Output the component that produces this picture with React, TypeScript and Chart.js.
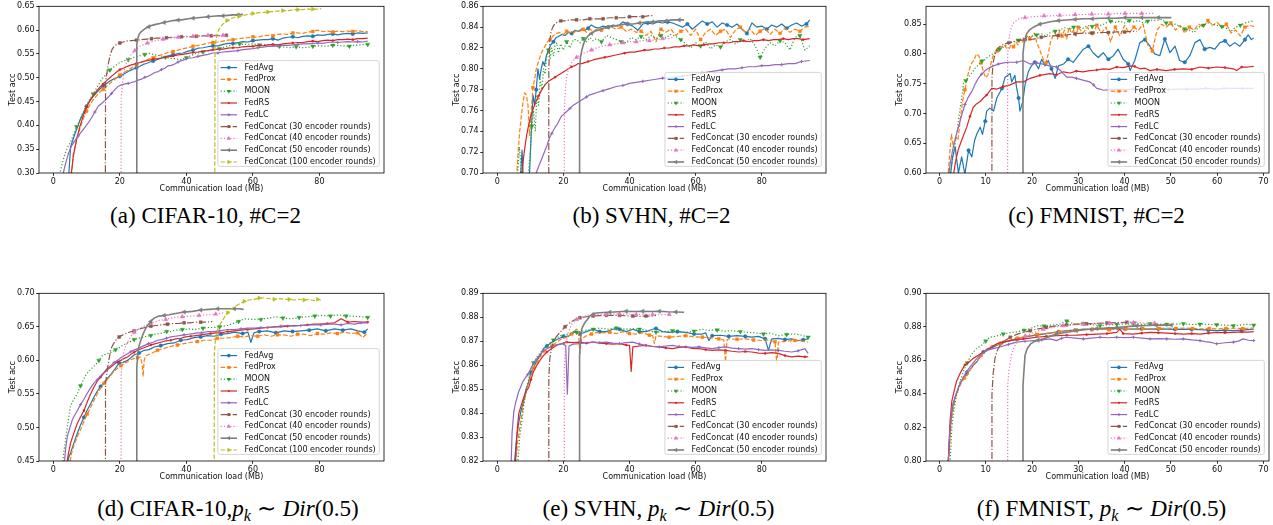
import React, { useEffect, useRef } from "react";
import { Chart, registerables } from "chart.js";
Chart.register(...registerables);

type Pt = [number, number];

// ---------------- series names & ticks ----------------
const SERIES_NAMES = [
  "FedAvg",
  "FedProx",
  "MOON",
  "FedRS",
  "FedLC",
  "FedConcat (30 encoder rounds)",
  "FedConcat (40 encoder rounds)",
  "FedConcat (50 encoder rounds)",
  "FedConcat (100 encoder rounds)",
];
const X_TICKS_100 = [0, 20, 40, 60, 80];
const X_TICKS_70 = [0, 10, 20, 30, 40, 50, 60, 70];
const Y_TICKS_A = [0.3, 0.35, 0.4, 0.45, 0.5, 0.55, 0.6, 0.65];
const Y_TICKS_B = [0.7, 0.72, 0.74, 0.76, 0.78, 0.8, 0.82, 0.84, 0.86];
const Y_TICKS_C = [0.6, 0.65, 0.7, 0.75, 0.8, 0.85];
const Y_TICKS_D = [0.45, 0.5, 0.55, 0.6, 0.65, 0.7];
const Y_TICKS_E = [0.82, 0.83, 0.84, 0.85, 0.86, 0.87, 0.88, 0.89];
const Y_TICKS_F = [0.8, 0.82, 0.84, 0.86, 0.88, 0.9];

// ---------------- (a) CIFAR-10, #C=2 ----------------
const A_FEDAVG: Pt[] = [[4.5,0.28],[5.2,0.355],[6,0.372],[7,0.392],[8,0.41],[9,0.426],[10,0.44],[11,0.452],[12,0.461],[13,0.469],[14,0.476],[15,0.483],[16,0.488],[17,0.493],[18,0.497],[19,0.5],[20,0.503],[21,0.507],[22,0.511],[23,0.515],[24,0.518],[25,0.521],[26,0.524],[27,0.528],[28,0.53],[29,0.533],[30,0.535],[31.5,0.539],[33,0.542],[34.5,0.546],[36,0.548],[37.5,0.551],[39,0.552],[40.5,0.556],[42,0.558],[43.5,0.562],[45,0.563],[46.5,0.565],[48,0.567],[49.5,0.567],[51,0.57],[52.5,0.572],[54,0.572],[55.5,0.574],[57,0.576],[58.5,0.575],[60,0.578],[61.5,0.579],[63,0.58],[64.5,0.58],[66,0.582],[67.5,0.579],[69,0.583],[70.5,0.585],[72,0.586],[73.5,0.584],[75,0.587],[76.5,0.588],[78,0.587],[79.5,0.59],[81,0.589],[82.5,0.591],[84,0.592],[85.5,0.59],[87,0.592],[88.5,0.593],[90,0.592],[91.5,0.594],[93,0.593],[94.5,0.594]];
const A_FEDPROX: Pt[] = [[5.3,0.28],[6,0.34],[7,0.37],[8,0.394],[9,0.414],[10,0.43],[11,0.443],[12,0.454],[13,0.462],[14,0.47],[15,0.476],[16,0.482],[17,0.488],[18,0.494],[19,0.5],[20,0.506],[21,0.51],[22,0.514],[23,0.518],[24,0.523],[25,0.527],[26,0.531],[27,0.534],[28,0.537],[29,0.54],[30,0.542],[31.5,0.546],[33,0.549],[34.5,0.553],[36,0.555],[37.5,0.558],[39,0.561],[40.5,0.563],[42,0.566],[43.5,0.568],[45,0.57],[46.5,0.573],[48,0.574],[49.5,0.575],[51,0.577],[52.5,0.579],[54,0.58],[55.5,0.582],[57,0.583],[58.5,0.584],[60,0.586],[61.5,0.585],[63,0.588],[64.5,0.589],[66,0.588],[67.5,0.591],[69,0.592],[70.5,0.591],[72,0.594],[73.5,0.594],[75,0.593],[76.5,0.596],[78,0.597],[79.5,0.6],[81,0.597],[82.5,0.598],[84,0.596],[85.5,0.598],[87,0.597],[88.5,0.598],[90,0.597],[91.5,0.599],[93,0.597],[94.5,0.597]];
const A_MOON: Pt[] = [[1.7,0.29],[2.5,0.315],[3.5,0.34],[4.5,0.357],[5.2,0.365],[6,0.38],[7,0.397],[8,0.413],[9,0.428],[10,0.443],[11,0.455],[12,0.466],[13,0.478],[14,0.49],[14.7,0.498],[16,0.508],[17,0.516],[18,0.522],[19.5,0.53],[21,0.535],[22.5,0.538],[24.3,0.543],[26,0.546],[27.5,0.549],[29,0.551],[30.5,0.548],[32,0.546],[33.7,0.543],[35,0.541],[36.5,0.54],[38.3,0.538],[40,0.542],[41.5,0.547],[43.3,0.552],[45,0.554],[46.5,0.556],[48,0.558],[50,0.561],[52,0.566],[54.4,0.57],[56,0.571],[58,0.57],[60,0.571],[62,0.569],[64,0.57],[66,0.568],[68,0.566],[70,0.564],[71.4,0.563],[73,0.565],[75,0.563],[76.4,0.564],[78,0.566],[80,0.567],[82,0.566],[84,0.568],[85.5,0.568],[87,0.567],[89,0.566],[90.5,0.568],[92,0.569],[94.5,0.57]];
const A_FEDRS: Pt[] = [[5,0.28],[5.6,0.31],[6,0.335],[7,0.37],[8,0.398],[9,0.42],[10,0.438],[11,0.452],[12,0.463],[13,0.472],[14,0.48],[15,0.487],[16,0.494],[17,0.5],[18,0.506],[19,0.512],[20,0.517],[21,0.52],[22,0.523],[23,0.526],[24,0.528],[25,0.53],[26,0.532],[27,0.534],[28,0.536],[29,0.537],[30,0.539],[31.5,0.54],[33,0.542],[34.5,0.544],[36,0.546],[37.5,0.548],[39,0.549],[40.5,0.551],[42,0.553],[43.5,0.554],[45,0.556],[46.5,0.557],[48,0.559],[49.5,0.56],[51,0.56],[52.5,0.562],[54,0.563],[55.5,0.563],[57,0.565],[58.5,0.566],[60,0.566],[61.5,0.568],[63,0.567],[64.5,0.569],[66,0.57],[67.5,0.569],[69,0.571],[70.5,0.572],[72,0.573],[73.5,0.574],[75,0.574],[76.5,0.576],[78,0.577],[79.5,0.576],[81,0.578],[82.5,0.579],[84,0.578],[85.5,0.58],[87,0.58],[88.5,0.581],[90,0.58],[91.5,0.582],[93,0.582],[94.5,0.583]];
const A_FEDLC: Pt[] = [[2.7,0.29],[3.5,0.315],[4.5,0.34],[5.5,0.357],[6.5,0.368],[7.5,0.378],[8.5,0.387],[9.5,0.396],[10.5,0.405],[11.5,0.416],[12.5,0.428],[13.5,0.44],[14.5,0.446],[15.5,0.452],[16.5,0.459],[17.5,0.467],[18.5,0.475],[19.5,0.482],[20.5,0.485],[21.5,0.487],[22.5,0.488],[23.5,0.49],[24.5,0.492],[25.5,0.495],[26.5,0.497],[27.5,0.501],[28.5,0.503],[29.5,0.507],[30.5,0.511],[31.5,0.513],[32.5,0.517],[33.5,0.52],[34.5,0.525],[35.5,0.526],[36.5,0.529],[37.5,0.533],[38.5,0.536],[39.5,0.538],[40.5,0.541],[42,0.542],[43.5,0.545],[45,0.547],[46.5,0.549],[48,0.552],[49.5,0.552],[51,0.554],[52.5,0.555],[54,0.556],[55.5,0.557],[57,0.559],[58.5,0.56],[60,0.561],[61.5,0.563],[63,0.564],[64.5,0.566],[66,0.566],[67.5,0.567],[69,0.568],[70.5,0.568],[72,0.569],[73.5,0.57],[75,0.571],[76.5,0.571],[78,0.572],[79.5,0.573],[81,0.572],[82.5,0.574],[84,0.575],[85.5,0.574],[87,0.575],[88.5,0.576],[90,0.575],[91.5,0.576],[93,0.575],[94.5,0.577]];
const A_FC30: Pt[] = [[15.6,0.1],[15.7,0.49],[16.2,0.515],[16.7,0.535],[17.2,0.55],[17.7,0.56],[18.3,0.566],[19,0.57],[20,0.573],[21,0.575],[22,0.577],[23.5,0.578],[25,0.579],[26.5,0.58],[28,0.581],[29.5,0.582],[31,0.583],[32.5,0.583],[34,0.584],[35.5,0.585],[37,0.585],[38.5,0.586],[40,0.587],[41.5,0.586],[43,0.587],[44.5,0.588],[46,0.588],[47.5,0.588],[49,0.589],[50.5,0.588],[52,0.589]];
const A_FC40: Pt[] = [[20.3,0.1],[20.4,0.46],[20.8,0.49],[21.3,0.515],[21.8,0.528],[22.4,0.538],[23,0.545],[23.7,0.551],[24.5,0.557],[25.4,0.563],[26.3,0.567],[27.3,0.57],[28.3,0.573],[29.3,0.575],[30.3,0.577],[31.5,0.579],[33,0.581],[34.5,0.582],[36,0.584],[37.5,0.585],[39,0.586],[40.5,0.586],[42,0.587],[43.5,0.588],[45,0.588],[46.5,0.589],[48,0.589],[49.5,0.589],[51,0.589],[52.4,0.589]];
const A_FC50: Pt[] = [[25,0.1],[25.1,0.57],[25.4,0.583],[25.8,0.591],[26.3,0.596],[27,0.6],[27.8,0.604],[28.7,0.607],[29.7,0.61],[30.8,0.612],[32,0.614],[33.3,0.616],[34.6,0.618],[36,0.62],[37.5,0.621],[39,0.622],[40.5,0.624],[42,0.625],[43.5,0.626],[45,0.627],[46.5,0.628],[48,0.629],[49.5,0.63],[51,0.63],[52.5,0.631],[54,0.632],[55.5,0.632],[57,0.633]];
const A_FC100: Pt[] = [[48.5,0.1],[48.6,0.56],[48.9,0.58],[49.3,0.594],[49.8,0.602],[50.4,0.608],[51.2,0.614],[52.2,0.62],[53.3,0.624],[54.5,0.627],[55.8,0.629],[57.2,0.631],[58.6,0.633],[60,0.635],[61.5,0.636],[63,0.637],[64.5,0.638],[66,0.639],[67.5,0.64],[69,0.641],[70.5,0.641],[72,0.642],[73.5,0.643],[75,0.643],[76.5,0.644],[78,0.644],[79.5,0.644],[80.5,0.645]];

// ---------------- (b) SVHN, #C=2 ----------------
const B_FEDAVG: Pt[] = [[6.8,0.69],[7.2,0.705],[7.5,0.722],[7.8,0.7],[8.5,0.69],[9.2,0.69],[9.8,0.7015],[10.3,0.74],[10.8,0.775],[11.3,0.765],[11.8,0.78],[12.3,0.8],[12.8,0.79],[13.3,0.8],[13.8,0.807],[14.3,0.803],[14.8,0.812],[15.5,0.818],[16.2,0.823],[17,0.826],[17.8,0.83],[18.5,0.831],[19.5,0.833],[20.5,0.832],[21.5,0.835],[22.5,0.834],[23.5,0.837],[24.5,0.836],[25.5,0.838],[26.5,0.837],[27.5,0.839],[28.5,0.842],[29.5,0.84],[30.5,0.839],[32,0.841],[33.5,0.84],[35,0.842],[36.5,0.841],[38,0.845],[39.5,0.843],[41,0.841],[42.5,0.837],[44,0.843],[45.5,0.844],[47,0.843],[48.5,0.845],[50,0.844],[51.5,0.845],[53,0.844],[54.5,0.842],[56,0.84],[57.5,0.843],[59,0.838],[60.5,0.842],[62,0.846],[63.5,0.843],[65,0.845],[66.5,0.84],[68,0.844],[69.5,0.842],[71,0.84],[72.5,0.843],[74,0.838],[75.5,0.834],[77,0.844],[78.5,0.84],[80,0.841],[81.5,0.838],[83,0.842],[84.5,0.84],[86,0.843],[87.5,0.839],[89,0.842],[90.5,0.844],[92,0.841],[93.5,0.843],[94.5,0.847]];
const B_FEDPROX: Pt[] = [[5.8,0.69],[6.3,0.72],[6.8,0.74],[7.3,0.755],[7.8,0.768],[8.3,0.777],[8.8,0.775],[9.3,0.765],[9.8,0.736],[10.3,0.76],[10.8,0.782],[11.3,0.79],[11.8,0.8],[12.3,0.805],[12.8,0.81],[13.3,0.815],[13.8,0.818],[14.5,0.822],[15.2,0.826],[16,0.828],[17,0.832],[18,0.834],[19,0.835],[20,0.833],[21,0.836],[22,0.835],[23,0.834],[24,0.837],[25,0.836],[26,0.838],[27,0.835],[28,0.838],[29,0.836],[30,0.838],[31.5,0.837],[33,0.839],[34.5,0.84],[36,0.838],[37.5,0.84],[39,0.836],[40.5,0.838],[42,0.835],[43.5,0.836],[45,0.832],[46.5,0.836],[48,0.826],[49.5,0.838],[51,0.835],[52.5,0.838],[54,0.832],[55.5,0.836],[57,0.838],[58.5,0.832],[60,0.838],[61.5,0.828],[63,0.835],[64.5,0.838],[66,0.832],[67.5,0.836],[69,0.838],[70.5,0.83],[72,0.837],[73.5,0.84],[75,0.835],[76.5,0.838],[78,0.832],[79.5,0.836],[81,0.839],[82.5,0.833],[84,0.838],[85.5,0.834],[87,0.839],[88.5,0.835],[90,0.838],[91.5,0.836],[93,0.84],[94.5,0.841]];
const B_MOON: Pt[] = [[5.8,0.69],[6.2,0.7],[6.7,0.725],[7.1,0.71],[7.6,0.69],[8.5,0.69],[9.3,0.695],[10,0.72],[10.5,0.745],[11,0.76],[11.5,0.74],[12,0.775],[12.5,0.765],[13,0.79],[13.5,0.78],[14,0.8],[14.5,0.795],[15,0.812],[15.5,0.818],[16,0.81],[16.5,0.82],[17,0.812],[17.5,0.822],[18,0.825],[18.5,0.815],[19.2,0.824],[20,0.818],[21,0.826],[22,0.82],[23,0.828],[24,0.828],[25,0.825],[26,0.829],[27,0.826],[28,0.83],[29,0.827],[30,0.829],[31.5,0.826],[33,0.832],[34.5,0.83],[36,0.828],[37.5,0.826],[39,0.825],[40.5,0.83],[42,0.828],[43.5,0.831],[45,0.828],[46.5,0.832],[48,0.829],[49.5,0.832],[51,0.83],[52.5,0.833],[54,0.831],[55.5,0.828],[57,0.824],[58.5,0.82],[60,0.825],[61.5,0.822],[63,0.826],[64.5,0.819],[66,0.823],[67.5,0.821],[69,0.826],[70.5,0.828],[72,0.824],[73.5,0.828],[75,0.826],[76.5,0.829],[78,0.822],[79.5,0.811],[81,0.82],[82.5,0.825],[84,0.822],[85.5,0.827],[87,0.825],[88.5,0.818],[90,0.83],[91.5,0.832],[93,0.818],[94.5,0.822]];
const B_FEDRS: Pt[] = [[7.2,0.69],[7.6,0.703],[8,0.716],[8.5,0.728],[9,0.738],[9.5,0.746],[10,0.753],[10.7,0.76],[11.5,0.767],[12.5,0.774],[13.5,0.78],[14.5,0.785],[15.5,0.788],[16.5,0.79],[17.5,0.792],[18.5,0.794],[19.5,0.796],[20.5,0.798],[21.5,0.8],[22.5,0.802],[23.5,0.803],[24.5,0.805],[25.5,0.805],[26.5,0.806],[27.5,0.807],[28.5,0.808],[29.5,0.809],[31,0.81],[32.5,0.811],[34,0.812],[35.5,0.813],[37,0.814],[38.5,0.815],[40,0.816],[41.5,0.816],[43,0.817],[44.5,0.818],[46,0.818],[47.5,0.819],[49,0.819],[50.5,0.82],[52,0.82],[53.5,0.821],[55,0.821],[56.5,0.822],[58,0.822],[59.5,0.823],[61,0.822],[62.5,0.823],[64,0.824],[65.5,0.824],[67,0.825],[68.5,0.825],[70,0.825],[71.5,0.826],[73,0.826],[74.5,0.827],[76,0.826],[77.5,0.827],[79,0.827],[80.5,0.828],[82,0.827],[83.5,0.828],[85,0.828],[86.5,0.829],[88,0.828],[89.5,0.829],[91,0.829],[92.5,0.828],[94.5,0.829]];
const B_FEDLC: Pt[] = [[11.5,0.698],[12,0.702],[12.5,0.706],[13,0.71],[13.5,0.714],[14,0.718],[14.5,0.722],[15,0.726],[15.5,0.731],[16,0.735],[16.5,0.738],[17,0.741],[17.5,0.744],[18,0.746],[18.5,0.749],[19,0.752],[19.5,0.755],[20,0.756],[21,0.759],[22,0.762],[23,0.765],[24,0.767],[25,0.769],[26,0.771],[27,0.773],[28,0.775],[29,0.776],[30,0.777],[32,0.779],[34,0.781],[36,0.783],[38,0.784],[40,0.786],[42,0.787],[44,0.788],[46,0.789],[48,0.79],[50,0.791],[52,0.791],[54,0.792],[56,0.793],[58,0.794],[60,0.795],[62,0.796],[64,0.797],[66,0.798],[68,0.799],[70,0.8],[72,0.8],[74,0.801],[76,0.802],[78,0.802],[80,0.803],[82,0.803],[84,0.804],[86,0.804],[88,0.805],[90,0.805],[92,0.807],[94.5,0.808]];
const B_FC30: Pt[] = [[15.5,0.1],[15.6,0.8],[15.9,0.827],[16.3,0.836],[16.8,0.84],[17.4,0.843],[18.2,0.845],[19.2,0.846],[20.5,0.846],[22,0.847],[24,0.847],[26,0.847],[28,0.848],[30,0.848],[32,0.848],[34,0.849],[36,0.849],[38,0.849],[40,0.85],[42,0.85],[44,0.85],[46,0.851],[47.5,0.851]];
const B_FC40: Pt[] = [[20.2,0.1],[20.3,0.76],[20.6,0.78],[21,0.793],[21.5,0.799],[22.2,0.804],[23,0.808],[24,0.811],[25,0.813],[26,0.815],[27,0.816],[28.5,0.818],[30,0.82],[32,0.822],[34,0.823],[36,0.824],[38,0.825],[40,0.826],[42,0.826],[44,0.827],[46,0.827],[48,0.828],[50,0.829],[52,0.829],[53,0.83]];
const B_FC50: Pt[] = [[24.8,0.1],[24.9,0.8],[25.2,0.812],[25.6,0.818],[26.1,0.824],[26.8,0.829],[27.6,0.832],[28.5,0.834],[29.5,0.836],[30.5,0.837],[32,0.839],[33.5,0.84],[35,0.841],[37,0.842],[39,0.843],[41,0.843],[43,0.844],[45,0.845],[47,0.845],[49,0.846],[51,0.846],[53,0.847],[55,0.847],[56.5,0.847]];

// ---------------- (c) FMNIST, #C=2 ----------------
const C_FEDAVG: Pt[] = [[2.3,0.59],[2.8,0.625],[3.4,0.644],[4.1,0.6],[4.8,0.627],[5.5,0.598],[6.3,0.638],[7,0.627],[7.6,0.655],[8.1,0.666],[8.8,0.677],[9.3,0.665],[9.9,0.687],[10.2,0.704],[10.9,0.709],[11.7,0.704],[12.4,0.726],[13.5,0.742],[14.2,0.761],[15.3,0.767],[15.6,0.753],[16.3,0.764],[16.7,0.742],[17.1,0.726],[17.4,0.704],[18,0.72],[18.5,0.748],[19.2,0.77],[19.9,0.78],[20.6,0.786],[21.4,0.775],[22.1,0.791],[22.8,0.78],[23.5,0.789],[24.2,0.775],[25,0.759],[25.7,0.78],[26.8,0.783],[27.8,0.791],[28.9,0.786],[30,0.797],[31.1,0.808],[32.2,0.813],[33.2,0.802],[34.3,0.794],[35.4,0.802],[36.5,0.791],[37.6,0.797],[38.6,0.808],[39.7,0.791],[40.8,0.783],[41.2,0.772],[42.2,0.789],[43.3,0.819],[44.4,0.824],[45.5,0.813],[46.5,0.8],[47.6,0.797],[48.7,0.825],[49.8,0.802],[50.9,0.813],[51.9,0.789],[53,0.786],[54.1,0.797],[55.2,0.819],[56.3,0.824],[57.3,0.808],[58.4,0.811],[59.5,0.808],[60.6,0.819],[61.7,0.822],[62.7,0.813],[63.8,0.819],[64.9,0.813],[66,0.824],[66.7,0.832],[67.4,0.824],[67.9,0.827]];
const C_FEDPROX: Pt[] = [[1.8,0.59],[2.3,0.64],[2.6,0.665],[3,0.645],[3.5,0.66],[4,0.655],[4.5,0.69],[5,0.72],[5.5,0.74],[6,0.76],[6.5,0.775],[7,0.785],[7.5,0.79],[8,0.8],[8.5,0.797],[9,0.785],[9.5,0.77],[10,0.76],[10.5,0.765],[11,0.78],[11.5,0.795],[12,0.8],[12.5,0.805],[13,0.808],[13.5,0.812],[14,0.815],[14.5,0.81],[15,0.808],[15.5,0.815],[16,0.812],[16.5,0.82],[17,0.815],[17.5,0.825],[18,0.82],[18.5,0.828],[19,0.83],[19.5,0.825],[20,0.83],[20.5,0.835],[21,0.82],[21.5,0.81],[22,0.8],[22.5,0.79],[23,0.785],[23.5,0.8],[24,0.82],[24.5,0.83],[25,0.835],[25.5,0.825],[26,0.84],[26.5,0.83],[27,0.84],[27.5,0.825],[28,0.845],[28.5,0.835],[29,0.84],[29.5,0.83],[30,0.845],[31,0.835],[32,0.845],[33,0.83],[34,0.848],[35,0.835],[36,0.845],[37,0.82],[38,0.845],[39,0.83],[40,0.848],[41,0.835],[42,0.845],[43,0.84],[44,0.85],[45,0.815],[46,0.805],[47,0.84],[48,0.85],[49,0.845],[50,0.852],[51,0.84],[52,0.848],[53,0.835],[54,0.845],[55,0.84],[56,0.85],[57,0.845],[58,0.856],[59,0.848],[60,0.853],[61,0.845],[62,0.85],[63,0.835],[64,0.84],[65,0.83],[66,0.845],[67,0.848],[68,0.846]];
const C_MOON: Pt[] = [[2.3,0.595],[2.8,0.62],[3.3,0.645],[3.8,0.67],[4.3,0.7],[4.8,0.725],[5.2,0.75],[5.7,0.755],[6.2,0.76],[6.7,0.765],[7.2,0.77],[7.7,0.776],[8.2,0.78],[8.7,0.784],[9.2,0.788],[9.7,0.79],[10.3,0.794],[10.9,0.797],[11.5,0.8],[12,0.803],[13,0.808],[14,0.812],[15,0.818],[16,0.82],[17,0.823],[18,0.826],[19,0.828],[20,0.83],[21,0.832],[22,0.834],[23,0.83],[24,0.836],[25,0.838],[26,0.84],[27,0.844],[28,0.842],[29,0.845],[30,0.846],[31,0.843],[32,0.848],[33,0.846],[34,0.85],[35,0.848],[36,0.852],[37,0.855],[38,0.853],[39,0.855],[40,0.852],[41,0.856],[42,0.854],[43,0.856],[44,0.852],[45,0.855],[46,0.857],[47,0.856],[48,0.858],[49,0.852],[50,0.848],[51,0.85],[52,0.846],[53,0.842],[54,0.84],[55,0.836],[56,0.845],[57,0.848],[58,0.852],[59,0.85],[60,0.848],[61,0.846],[62,0.843],[63,0.838],[64,0.845],[65,0.848],[66,0.852],[67,0.854],[68,0.856]];
const C_FEDRS: Pt[] = [[3,0.595],[3.5,0.62],[4.1,0.64],[4.8,0.655],[5.9,0.677],[6.6,0.695],[7.3,0.71],[8,0.716],[8.8,0.72],[9.5,0.726],[10.2,0.731],[11.3,0.742],[12.4,0.741],[13.8,0.745],[15.3,0.748],[16.7,0.753],[18.1,0.753],[19.6,0.759],[21.7,0.764],[23.9,0.767],[25.3,0.765],[26.8,0.77],[28.2,0.768],[29.6,0.771],[31,0.77],[32.5,0.772],[34,0.773],[35.4,0.775],[36.8,0.774],[38.3,0.778],[39.7,0.777],[41.2,0.78],[42.2,0.779],[43.3,0.775],[44.4,0.776],[45.5,0.772],[47,0.774],[49,0.772],[50.8,0.774],[52.7,0.775],[54.5,0.774],[56.3,0.778],[58.1,0.776],[59.9,0.778],[61.7,0.777],[63.5,0.775],[64.2,0.772],[65.3,0.778],[66.6,0.778],[67.9,0.779]];
const C_FEDLC: Pt[] = [[1.9,0.59],[2.4,0.62],[3,0.644],[3.5,0.66],[4.1,0.677],[4.8,0.697],[5.5,0.715],[6.2,0.727],[7,0.737],[7.7,0.749],[8.4,0.759],[9.1,0.766],[9.9,0.772],[10.8,0.777],[11.7,0.78],[12.7,0.783],[13.8,0.785],[15.2,0.786],[16.7,0.786],[18.1,0.789],[19.6,0.783],[21,0.785],[22.4,0.783],[23.8,0.78],[25.3,0.778],[26.4,0.77],[27.5,0.761],[28.6,0.761],[29.6,0.759],[31,0.756],[32.5,0.753],[33.3,0.748],[34,0.742],[34.7,0.741],[35.4,0.739],[36.8,0.74],[38.3,0.741],[40,0.74],[41.9,0.741],[43.7,0.74],[45.5,0.741],[47.5,0.741],[49.5,0.74],[51.5,0.741],[53.5,0.741],[55.5,0.741],[57.5,0.742],[59.5,0.741],[61.5,0.742],[63.5,0.742],[65.5,0.742],[67.9,0.742]];
const C_FC30: Pt[] = [[11.3,0.1],[11.35,0.76],[11.6,0.785],[12,0.8],[12.4,0.808],[13,0.812],[13.8,0.816],[15,0.819],[16.7,0.822],[18.5,0.824],[20.3,0.825],[22,0.828],[23.9,0.83],[25.7,0.831],[27.5,0.832],[29.3,0.834],[31.1,0.835],[33,0.835],[34.7,0.836],[36.5,0.836],[38.3,0.837],[40,0.837],[41.5,0.838],[42.6,0.838]];
const C_FC40: Pt[] = [[14.7,0.1],[14.75,0.8],[15.1,0.83],[15.5,0.843],[16,0.852],[16.6,0.856],[17.4,0.86],[18.5,0.861],[19.7,0.862],[21,0.863],[22.6,0.864],[24.3,0.864],[26,0.865],[27.5,0.865],[29.3,0.866],[31,0.866],[32.9,0.867],[34.7,0.867],[36.5,0.867],[38.3,0.868],[40.1,0.868],[41.9,0.868],[43.7,0.868],[45.3,0.868],[46.5,0.868]];
const C_FC50: Pt[] = [[18,0.1],[18.05,0.8],[18.3,0.818],[18.8,0.833],[19.3,0.839],[19.9,0.843],[20.8,0.847],[21.7,0.85],[22.8,0.852],[23.9,0.854],[25.7,0.856],[27.5,0.857],[29.3,0.858],[31.1,0.859],[33,0.859],[34.7,0.86],[36.5,0.86],[38.3,0.86],[40.1,0.861],[41.9,0.861],[43.7,0.861],[45.5,0.861],[47.3,0.861],[49,0.861],[50.1,0.861]];

// ---------------- (d) CIFAR-10, Dir(0.5) ----------------
const D_FEDAVG: Pt[] = [[4,0.44],[4.6,0.455],[5.2,0.462],[6.2,0.477],[7.2,0.491],[8.2,0.504],[9.2,0.515],[10.2,0.526],[11.2,0.535],[12.2,0.545],[13.2,0.554],[14.2,0.561],[15.2,0.567],[16.2,0.573],[17.3,0.579],[18.5,0.587],[19.8,0.596],[21,0.597],[22.3,0.6],[23.3,0.604],[24.3,0.608],[25.8,0.611],[27.3,0.615],[28.8,0.616],[30.3,0.62],[32.3,0.622],[34.3,0.625],[36.3,0.626],[38.3,0.63],[40.3,0.631],[42.3,0.634],[44.3,0.635],[46.3,0.637],[48.3,0.636],[50.4,0.639],[52.4,0.64],[54.4,0.642],[56.9,0.64],[58.5,0.642],[59.4,0.627],[60.3,0.641],[61.9,0.643],[64.4,0.644],[66.9,0.641],[69.4,0.644],[71.9,0.643],[74.4,0.644],[76.9,0.645],[79.4,0.647],[81.9,0.644],[84.5,0.647],[87,0.645],[89.5,0.647],[91.5,0.644],[93.5,0.642],[94.5,0.647]];
const D_FEDPROX: Pt[] = [[4.7,0.44],[5.5,0.462],[6.3,0.475],[7.2,0.486],[8.2,0.497],[9.2,0.509],[10.2,0.52],[11.2,0.53],[12.2,0.54],[13.2,0.55],[14.2,0.559],[15.3,0.566],[16.3,0.572],[17.3,0.578],[18.3,0.584],[19.3,0.588],[20.3,0.592],[21.3,0.595],[22.3,0.598],[23.3,0.601],[24.3,0.603],[25.3,0.604],[26.3,0.605],[26.8,0.59],[27,0.576],[27.3,0.6],[27.8,0.607],[29.3,0.61],[31.3,0.615],[33.3,0.618],[35.3,0.621],[37.3,0.623],[39.3,0.625],[41.3,0.627],[43.3,0.628],[45.3,0.63],[47.3,0.63],[49.3,0.633],[51.3,0.633],[53.4,0.634],[55.4,0.636],[57.4,0.635],[59.4,0.637],[61.4,0.636],[63.4,0.638],[65.4,0.636],[67.4,0.638],[69.4,0.638],[71.4,0.636],[73.4,0.639],[75.4,0.639],[77.4,0.637],[79.4,0.64],[81.4,0.639],[83.4,0.641],[85.4,0.64],[87.5,0.642],[89.5,0.64],[91.5,0.641],[93,0.634],[94.5,0.641]];
const D_MOON: Pt[] = [[2.7,0.44],[3.2,0.465],[3.7,0.482],[4.2,0.5],[4.7,0.518],[5.2,0.533],[6.2,0.542],[7.2,0.55],[8.2,0.562],[9.1,0.572],[10,0.58],[11,0.585],[11.9,0.59],[12.7,0.593],[13.7,0.6],[14.7,0.607],[15.7,0.609],[16.8,0.611],[17.8,0.613],[18.7,0.616],[19.5,0.618],[20.7,0.622],[21.9,0.625],[23.1,0.628],[24.3,0.631],[25.5,0.633],[26.8,0.634],[28,0.636],[29.3,0.637],[30.5,0.639],[31.7,0.64],[32.9,0.641],[34.1,0.643],[35.3,0.643],[36.5,0.645],[37.7,0.645],[38.8,0.646],[40,0.646],[41.2,0.647],[42.3,0.646],[43.3,0.647],[45,0.648],[46.5,0.649],[48.1,0.649],[50,0.65],[52.4,0.652],[54,0.655],[55.7,0.658],[57.4,0.662],[60,0.661],[62.4,0.661],[64.6,0.663],[66.9,0.665],[69,0.663],[71.4,0.662],[73.9,0.664],[76.4,0.665],[78.6,0.666],[80.9,0.667],[83.3,0.666],[85.7,0.668],[88,0.666],[90.5,0.666],[92.5,0.665],[94.5,0.664]];
const D_FEDRS: Pt[] = [[3.9,0.44],[4.5,0.46],[5.2,0.477],[6.2,0.492],[7.2,0.506],[8.2,0.516],[9.2,0.525],[10.2,0.538],[11.2,0.55],[12.2,0.56],[13.2,0.569],[14.2,0.575],[15.2,0.581],[16.2,0.586],[17.3,0.59],[18.3,0.594],[19.3,0.598],[20.3,0.6],[21.3,0.603],[22.3,0.605],[23.3,0.609],[24.3,0.612],[25.3,0.615],[26.3,0.617],[27.8,0.62],[29.3,0.623],[30.8,0.625],[32.3,0.627],[33.8,0.629],[35.3,0.63],[36.8,0.632],[38.3,0.633],[39.8,0.635],[41.3,0.636],[42.8,0.637],[44.3,0.638],[45.8,0.639],[47.3,0.64],[48.8,0.641],[50.4,0.641],[52.4,0.643],[54.4,0.644],[56.4,0.645],[58.4,0.646],[60.4,0.647],[62.4,0.648],[64.4,0.649],[66.4,0.65],[68.4,0.65],[70.4,0.651],[72.4,0.652],[74.4,0.652],[76.4,0.653],[78.4,0.654],[80.4,0.654],[82.4,0.655],[84.5,0.656],[86.5,0.662],[88.5,0.657],[90.5,0.658],[92.5,0.657],[94.5,0.657]];
const D_FEDLC: Pt[] = [[3.2,0.44],[3.7,0.468],[4.2,0.486],[5,0.5],[5.7,0.511],[6.5,0.519],[7.2,0.525],[8.2,0.534],[9.2,0.542],[10.2,0.551],[11.2,0.559],[12.2,0.566],[13.2,0.571],[14.2,0.577],[15.2,0.582],[16.2,0.588],[17.2,0.592],[18.3,0.597],[19.3,0.6],[20.3,0.604],[21.3,0.607],[22.3,0.61],[23.3,0.613],[24.6,0.616],[26,0.619],[27.3,0.622],[28.6,0.625],[30,0.627],[31.3,0.63],[32.6,0.631],[34,0.633],[35.3,0.635],[36.6,0.636],[38,0.637],[39.3,0.638],[40.6,0.639],[42,0.64],[43.3,0.641],[44.6,0.641],[46.3,0.643],[48,0.643],[50,0.644],[52.4,0.646],[54.4,0.646],[56.4,0.647],[58.4,0.648],[60.4,0.648],[62.4,0.649],[64.4,0.649],[66.4,0.65],[68.4,0.651],[70.4,0.652],[72.4,0.651],[74.4,0.652],[76.4,0.653],[78.4,0.653],[80.4,0.653],[82.4,0.654],[84.5,0.654],[86.5,0.653],[88.5,0.655],[90.5,0.654],[92.5,0.656],[94.5,0.656]];
const D_FC30: Pt[] = [[15.6,0.1],[15.7,0.565],[16.2,0.585],[16.8,0.603],[17.3,0.617],[18,0.624],[18.8,0.63],[19.8,0.635],[21.3,0.639],[22.8,0.642],[24.3,0.644],[26,0.647],[27.6,0.649],[29.3,0.651],[31,0.652],[32.6,0.653],[34.3,0.654],[36,0.655],[37.6,0.655],[39.3,0.656],[41,0.656],[42.6,0.657],[44.3,0.657],[46,0.657],[47.8,0.658]];
const D_FC40: Pt[] = [[20.3,0.1],[20.4,0.58],[20.7,0.598],[21.1,0.61],[21.6,0.619],[22.3,0.627],[23.2,0.635],[24.3,0.642],[25.8,0.647],[27.3,0.651],[29.3,0.655],[31.3,0.659],[33.8,0.661],[36.3,0.664],[38.8,0.665],[41.3,0.666],[43.8,0.667],[46.3,0.668],[48.8,0.669],[51.4,0.671]];
const D_FC50: Pt[] = [[25,0.1],[25.1,0.59],[25.4,0.61],[25.8,0.622],[26.3,0.63],[26.8,0.637],[27.5,0.645],[28.3,0.652],[29.3,0.658],[30.3,0.663],[31.8,0.666],[33.3,0.667],[34.8,0.668],[36.8,0.67],[39.3,0.672],[41.8,0.673],[44.3,0.675],[46.8,0.676],[49.4,0.677],[51.9,0.677],[54.4,0.677],[56,0.677],[57.2,0.676]];
const D_FC100: Pt[] = [[48.3,0.1],[48.4,0.61],[48.7,0.628],[49.1,0.642],[49.7,0.65],[50.4,0.656],[51.4,0.664],[52.4,0.671],[53.4,0.676],[54.4,0.68],[55.9,0.684],[57.4,0.688],[58.9,0.69],[60.4,0.691],[61.9,0.693],[63.4,0.693],[64.9,0.692],[66.4,0.691],[67.9,0.692],[69.4,0.691],[70.9,0.691],[72.4,0.69],[73.9,0.691],[75.4,0.69],[76.9,0.691],[78.4,0.689],[79.5,0.691],[80.4,0.69]];

// ---------------- (e) SVHN, Dir(0.5) ----------------
const E_FEDAVG: Pt[] = [[5.2,0.819],[5.8,0.829],[6.5,0.836],[7.2,0.841],[8,0.845],[8.7,0.85],[9.5,0.853],[10.2,0.857],[11,0.859],[12,0.862],[13,0.864],[14,0.867],[15,0.868],[16,0.869],[17,0.87],[18.5,0.871],[20,0.872],[21.5,0.872],[23,0.874],[25,0.873],[27,0.874],[29,0.875],[31,0.874],[33,0.874],[35,0.875],[37,0.875],[39,0.874],[41,0.875],[43,0.874],[45,0.874],[47,0.875],[48,0.8753],[50,0.874],[52,0.8737],[54.5,0.874],[57,0.8737],[59.5,0.873],[62,0.873],[63,0.8735],[64,0.8703],[65,0.8723],[67.5,0.8725],[70,0.872],[72.5,0.8723],[75,0.872],[77,0.8717],[79,0.872],[81,0.871],[82,0.8662],[83,0.871],[85,0.8712],[87,0.8707],[89,0.871],[91,0.8703],[92.5,0.8706],[94,0.871]];
const E_FEDPROX: Pt[] = [[5.5,0.819],[6.2,0.828],[7,0.8357],[8,0.844],[9,0.8506],[10,0.855],[11,0.8588],[12,0.861],[13,0.8635],[14,0.865],[15,0.8669],[16.5,0.868],[18,0.8696],[19.5,0.871],[21,0.8717],[22.5,0.873],[24,0.875],[24.5,0.8744],[25,0.8649],[25.5,0.871],[27,0.8723],[28.5,0.873],[30,0.8737],[32,0.8735],[34,0.8737],[36,0.8732],[38,0.874],[40,0.8732],[42,0.873],[44,0.8735],[46,0.8725],[47,0.8723],[47.5,0.869],[48,0.8723],[50,0.872],[52,0.8717],[54.5,0.872],[57,0.8723],[59.5,0.8718],[62,0.8717],[64.5,0.8714],[67,0.871],[68.5,0.8705],[69,0.8615],[69.5,0.8705],[70,0.871],[72.5,0.8708],[75,0.871],[77.5,0.8705],[80,0.8703],[82,0.8706],[84,0.8698],[84.5,0.8608],[85,0.8696],[87.5,0.87],[90,0.8703],[92,0.87],[94,0.8696]];
const E_MOON: Pt[] = [[6.2,0.819],[6.8,0.83],[7.5,0.837],[8.2,0.845],[9,0.8506],[10,0.8574],[11,0.861],[12,0.8635],[13.5,0.866],[15,0.8683],[17,0.8705],[19,0.8723],[21.5,0.873],[24,0.8737],[26.5,0.8745],[29,0.875],[31,0.8755],[33.5,0.875],[36,0.8755],[38,0.875],[40.5,0.8752],[43,0.875],[45.5,0.8745],[48,0.8737],[50.5,0.874],[53,0.8744],[55,0.8738],[57,0.8737],[59.5,0.8742],[62,0.875],[64,0.8745],[66.5,0.8747],[68.5,0.8742],[71,0.8744],[73.5,0.874],[76,0.8737],[78,0.8735],[80.5,0.873],[82.5,0.8734],[85,0.8723],[87.5,0.8728],[90,0.873],[92,0.8725],[94,0.8717]];
const E_FEDRS: Pt[] = [[5.5,0.819],[6,0.832],[6.5,0.8397],[7.2,0.843],[8,0.8465],[8.7,0.849],[9.5,0.8506],[10.2,0.854],[11,0.8574],[12,0.86],[13,0.8622],[14,0.864],[15,0.8655],[16.5,0.867],[18,0.8683],[19.5,0.869],[21,0.8696],[23,0.8694],[25,0.8696],[27,0.8692],[29,0.8696],[31,0.8692],[33,0.869],[35,0.8688],[37,0.869],[39,0.8684],[40,0.8683],[40.5,0.8574],[41,0.8676],[43,0.868],[45,0.8683],[47,0.8678],[49,0.8676],[51,0.8672],[53,0.8669],[55,0.8674],[57,0.8676],[59,0.867],[61,0.8669],[63,0.8665],[65,0.8662],[67,0.8664],[69,0.8662],[71,0.8658],[73,0.8655],[75,0.8657],[77,0.8655],[79,0.865],[81,0.8649],[83,0.8652],[85,0.8649],[87,0.864],[89,0.8635],[91,0.8638],[93,0.8635],[94,0.8635]];
const E_FEDLC: Pt[] = [[4.2,0.819],[4.5,0.832],[5,0.8404],[5.5,0.844],[6,0.8465],[6.5,0.849],[7,0.8506],[7.7,0.853],[8.5,0.8547],[9.2,0.856],[10,0.8581],[11,0.861],[12,0.8628],[13,0.8645],[14,0.8662],[15.5,0.8672],[17,0.8683],[18.5,0.8687],[20,0.869],[20.7,0.868],[21.2,0.8479],[21.7,0.868],[23,0.8688],[25,0.869],[27,0.8694],[29,0.8696],[31,0.8694],[33,0.8696],[35,0.8692],[37,0.869],[39,0.8694],[41,0.8696],[43,0.8688],[45,0.8683],[47,0.8678],[49,0.8676],[51,0.868],[53,0.8683],[55,0.8678],[57,0.8676],[59,0.8674],[61,0.8676],[63,0.8672],[65,0.8669],[67,0.8673],[69,0.8676],[71,0.8671],[73,0.8669],[75,0.8667],[77,0.8669],[79,0.8665],[81,0.8662],[83,0.8664],[85,0.8662],[87,0.8658],[89,0.8655],[91,0.866],[93,0.8669],[94,0.8649]];
const E_FC30: Pt[] = [[15.5,0.1],[15.6,0.855],[15.9,0.8628],[16.4,0.867],[17,0.8696],[17.8,0.8718],[19,0.8737],[20.5,0.876],[22,0.8778],[23.5,0.879],[25,0.8798],[27,0.8802],[29,0.8805],[31,0.8807],[33,0.8808],[35,0.8808],[37,0.8808],[39,0.8806],[41,0.8805],[43,0.8804],[45,0.8805],[47,0.8805],[48,0.8808]];
const E_FC40: Pt[] = [[20.2,0.1],[20.3,0.86],[20.6,0.8669],[21,0.8705],[21.5,0.8737],[22.5,0.8771],[24,0.8791],[25.5,0.88],[27,0.8808],[29,0.881],[31,0.8812],[33,0.8813],[35,0.8814],[37,0.8814],[39,0.8813],[42,0.8812],[44.5,0.8813],[47,0.8812],[49.5,0.8811],[52,0.8812]];
const E_FC50: Pt[] = [[24.8,0.1],[24.9,0.864],[25.1,0.8696],[25.5,0.875],[26,0.8765],[26.5,0.8778],[27.2,0.879],[28,0.8805],[29,0.8812],[30,0.8818],[32,0.882],[34,0.8821],[36.5,0.8823],[39,0.8825],[41.5,0.8824],[44,0.8825],[46.5,0.8824],[49,0.8825],[51.5,0.8823],[54,0.8822],[56.5,0.8821]];

// ---------------- (f) FMNIST, Dir(0.5) ----------------
const F_FEDAVG: Pt[] = [[1.9,0.799],[2.3,0.8184],[2.6,0.827],[3,0.834],[3.5,0.839],[4.1,0.8437],[4.6,0.847],[5.2,0.8495],[5.9,0.852],[6.6,0.8544],[7.3,0.857],[8.1,0.8592],[8.8,0.862],[9.5,0.865],[10.2,0.866],[10.9,0.867],[12,0.8685],[13.1,0.8699],[14.2,0.871],[15.3,0.8718],[16.7,0.8728],[18.1,0.8738],[19.5,0.8745],[21,0.8751],[22.4,0.8757],[23.9,0.8763],[25.7,0.877],[27.5,0.8777],[29.3,0.878],[31.1,0.8786],[32.9,0.8784],[34.7,0.8786],[36.5,0.8788],[38.3,0.879],[40.1,0.8787],[41.9,0.8786],[43.7,0.8788],[45.5,0.8786],[47.3,0.8788],[49.1,0.8786],[50.9,0.8785],[52.7,0.8786],[54.5,0.8784],[56.3,0.8783],[58.1,0.878],[59.9,0.8777],[61.7,0.878],[63.5,0.8777],[65.3,0.878],[66.6,0.8783],[67.9,0.8786]];
const F_FEDPROX: Pt[] = [[2,0.799],[2.4,0.817],[2.7,0.826],[3.1,0.833],[3.6,0.839],[4.2,0.8435],[4.8,0.847],[5.4,0.8495],[6.1,0.852],[6.8,0.855],[7.5,0.858],[8.2,0.86],[9,0.863],[9.7,0.8655],[10.4,0.867],[11.1,0.8685],[12.2,0.8692],[13.3,0.8702],[14.4,0.8712],[15.5,0.8722],[16.9,0.8732],[18.3,0.874],[19.7,0.8748],[21.2,0.8755],[22.6,0.876],[24.1,0.8765],[25.9,0.877],[27.7,0.8776],[29.5,0.878],[31.3,0.8784],[33.1,0.8786],[34.9,0.8785],[36.7,0.8783],[38.5,0.8786],[40.3,0.8788],[42.1,0.8787],[43.9,0.879],[45.7,0.8788],[47.5,0.879],[49.3,0.8792],[51.1,0.879],[52.9,0.8793],[54.7,0.879],[56.5,0.8788],[58.3,0.879],[60.1,0.8788],[61.9,0.879],[63.7,0.8792],[65.5,0.879],[67.9,0.8793]];
const F_MOON: Pt[] = [[2.3,0.799],[2.7,0.82],[3.1,0.83],[3.6,0.838],[4.2,0.845],[4.7,0.8495],[5.2,0.8534],[6,0.8585],[6.7,0.8625],[7.3,0.865],[8.2,0.8675],[9.1,0.869],[10,0.8715],[10.9,0.8738],[12.3,0.8745],[13.8,0.8757],[15.3,0.8765],[16.8,0.877],[18.3,0.878],[19.7,0.879],[21,0.8806],[22.6,0.8805],[24.2,0.881],[25.9,0.8815],[27.5,0.8835],[29.3,0.8815],[31.1,0.882],[32.9,0.8813],[34.7,0.8806],[36.5,0.8812],[38.3,0.8815],[40.1,0.8816],[41.9,0.8818],[43.7,0.8815],[45.5,0.8818],[47.3,0.8816],[49.1,0.8815],[50.9,0.8816],[52.7,0.8818],[54.5,0.8814],[56.3,0.8816],[58.1,0.8815],[59.9,0.8812],[61.7,0.881],[63.5,0.8806],[65.3,0.8812],[66.6,0.8815],[67.9,0.881]];
const F_FEDRS: Pt[] = [[1.9,0.799],[2.3,0.824],[2.7,0.836],[3.2,0.842],[3.7,0.8476],[4.6,0.853],[5.5,0.8573],[6.4,0.859],[7.3,0.8612],[8.4,0.863],[9.5,0.865],[11,0.8675],[12.4,0.8699],[13.8,0.871],[15.3,0.8718],[16.7,0.8724],[18.1,0.8728],[19.5,0.8733],[21,0.8738],[23.1,0.8743],[25.3,0.8748],[27.5,0.875],[29.6,0.8751],[31.8,0.8754],[34,0.8757],[36.2,0.876],[38.3,0.8767],[39,0.8786],[39.7,0.876],[41.9,0.8757],[43.7,0.8762],[45.5,0.8767],[47.3,0.8765],[49.1,0.8763],[50.9,0.876],[52.7,0.8757],[54.5,0.876],[56.3,0.8757],[58.1,0.8762],[59.9,0.8767],[61.7,0.8765],[63.5,0.8767],[65.3,0.877],[66.6,0.8768],[67.9,0.8771]];
const F_FEDLC: Pt[] = [[1.9,0.799],[2.3,0.82],[2.7,0.832],[3.4,0.838],[4.1,0.8437],[5,0.849],[5.9,0.8534],[7,0.8575],[8.1,0.8612],[9.1,0.864],[10.2,0.866],[11.6,0.867],[13.1,0.868],[14.9,0.8695],[16.7,0.8709],[18.5,0.8714],[20.3,0.8718],[22.1,0.8722],[23.9,0.8728],[25.3,0.8718],[26.4,0.8732],[27.5,0.8738],[29.3,0.8733],[31.1,0.8728],[32.9,0.8733],[34.7,0.8738],[36.5,0.8735],[38.3,0.8738],[40.1,0.8736],[41.9,0.8738],[43.7,0.8733],[45.5,0.8728],[47.3,0.873],[49.1,0.8728],[50.9,0.8726],[52.7,0.8728],[54.5,0.8722],[56.3,0.8718],[57.4,0.8712],[58.4,0.8709],[59.9,0.8699],[61.7,0.8705],[63.5,0.8709],[64.6,0.8715],[65.6,0.8728],[66.8,0.872],[67.9,0.8718]];
const F_FC30: Pt[] = [[11.3,0.1],[11.35,0.84],[11.6,0.852],[12,0.8612],[12.5,0.866],[13.1,0.8689],[14.2,0.8718],[15.3,0.8738],[16.7,0.8755],[18.1,0.8767],[19.6,0.8777],[21,0.8786],[23.1,0.8796],[25.3,0.8806],[27.5,0.8812],[29.6,0.8816],[31.8,0.8818],[34,0.8821],[36.2,0.8823],[38.3,0.8825],[40.5,0.8827],[42.6,0.8829]];
const F_FC40: Pt[] = [[14.7,0.1],[14.75,0.845],[15,0.853],[15.3,0.8592],[15.6,0.864],[16,0.867],[16.7,0.8705],[17.4,0.8728],[18.5,0.8745],[19.6,0.8757],[21,0.8772],[22.4,0.8786],[24.5,0.8796],[26.7,0.8806],[28.9,0.8811],[31.1,0.8816],[33.9,0.8818],[36.8,0.8821],[39.4,0.8823],[41.9,0.8825],[44.2,0.8823],[46.5,0.8821]];
const F_FC50: Pt[] = [[18,0.1],[18.05,0.845],[18.3,0.8553],[18.5,0.8631],[18.9,0.8665],[19.2,0.868],[19.7,0.8698],[20.3,0.8709],[21.3,0.872],[22.4,0.8728],[23.8,0.8743],[25.3,0.8757],[27.5,0.8768],[29.6,0.8777],[31.8,0.8784],[34,0.879],[36.2,0.8793],[38.3,0.8796],[40.5,0.8801],[42.6,0.8806],[44.7,0.8808],[46.8,0.881],[48.5,0.881],[50.1,0.881]];

// ---------------- styles ----------------
const STYLES = [
  { color: "#1f77b4", dash: [] as number[], marker: "circle", rot: 0, r: 1.8, w: 1.2 },
  { color: "#ff7f0e", dash: [4.5, 1.9], marker: "rect", rot: 0, r: 2.1, w: 1.2 },
  { color: "#2ca02c", dash: [1.2, 2], marker: "triangle", rot: 180, r: 2.5, w: 1.2 },
  { color: "#d62728", dash: [] as number[], marker: "circle", rot: 0, r: 1.1, w: 1.2 },
  { color: "#9467bd", dash: [] as number[], marker: "cross", rot: 0, r: 1.6, w: 1.2 },
  { color: "#8c564b", dash: [7, 1.9, 1.2, 1.9], marker: "rect", rot: 0, r: 2.1, w: 1.2 },
  { color: "#e377c2", dash: [1.2, 2], marker: "triangle", rot: 0, r: 2.5, w: 1.2 },
  { color: "#7f7f7f", dash: [] as number[], marker: "triangle", rot: -90, r: 2.5, w: 1.6 },
  { color: "#bcbd22", dash: [4.5, 1.9], marker: "triangle", rot: 90, r: 2.5, w: 1.2 },
];

const FONT = { family: "'DejaVu Sans', sans-serif", size: 8 };
const TXT = "#111";

type PanelCfg = {
  series: Pt[][];
  xMin: number; xMax: number; xTicks: number[];
  yMin: number; yMax: number; yTicks: number[];
  markBase: number; markConcat: number;
  left: number; top: number; w: number; h: number; yW: number; padR: number;
};

const PANELS: PanelCfg[] = [
  { series: [A_FEDAVG, A_FEDPROX, A_MOON, A_FEDRS, A_FEDLC, A_FC30, A_FC40, A_FC50, A_FC100], xMin: -4.3, xMax: 99.4, xTicks: X_TICKS_100, yMin: 0.3, yMax: 0.65, yTicks: Y_TICKS_A, markBase: 4.7, markConcat: 3.6, left: 0, top: 0, w: 390, h: 200, yW: 39, padR: 6 },
  { series: [B_FEDAVG, B_FEDPROX, B_MOON, B_FEDRS, B_FEDLC, B_FC30, B_FC40, B_FC50], xMin: -4.3, xMax: 99.4, xTicks: X_TICKS_100, yMin: 0.7, yMax: 0.86, yTicks: Y_TICKS_B, markBase: 4.7, markConcat: 3.6, left: 443, top: 0, w: 389, h: 200, yW: 40, padR: 6 },
  { series: [C_FEDAVG, C_FEDPROX, C_MOON, C_FEDRS, C_FEDLC, C_FC30, C_FC40, C_FC50], xMin: -2.9, xMax: 71.2, xTicks: X_TICKS_70, yMin: 0.6, yMax: 0.88, yTicks: Y_TICKS_C, markBase: 3.4, markConcat: 3.0, left: 886, top: 0, w: 387, h: 200, yW: 40, padR: 4 },
  { series: [D_FEDAVG, D_FEDPROX, D_MOON, D_FEDRS, D_FEDLC, D_FC30, D_FC40, D_FC50, D_FC100], xMin: -4.3, xMax: 99.4, xTicks: X_TICKS_100, yMin: 0.45, yMax: 0.7, yTicks: Y_TICKS_D, markBase: 4.7, markConcat: 3.6, left: 0, top: 287, w: 390, h: 201, yW: 39, padR: 6 },
  { series: [E_FEDAVG, E_FEDPROX, E_MOON, E_FEDRS, E_FEDLC, E_FC30, E_FC40, E_FC50], xMin: -4.3, xMax: 99.4, xTicks: X_TICKS_100, yMin: 0.82, yMax: 0.89, yTicks: Y_TICKS_E, markBase: 4.7, markConcat: 3.6, left: 443, top: 287, w: 389, h: 201, yW: 40, padR: 6 },
  { series: [F_FEDAVG, F_FEDPROX, F_MOON, F_FEDRS, F_FEDLC, F_FC30, F_FC40, F_FC50], xMin: -2.9, xMax: 71.2, xTicks: X_TICKS_70, yMin: 0.8, yMax: 0.9, yTicks: Y_TICKS_F, markBase: 3.4, markConcat: 3.0, left: 886, top: 287, w: 387, h: 201, yW: 40, padR: 4 },
];

function markerRadii(pts: Pt[], step: number, r: number): number[] {
  let next = -Infinity;
  return pts.map((p) => {
    if (p[0] >= next - 1e-9) {
      next = p[0] + step;
      return r;
    }
    return 0;
  });
}

function drawMarker(ctx: CanvasRenderingContext2D, kind: string, rot: number, r: number, x: number, y: number, color: string) {
  ctx.save();
  ctx.translate(x, y);
  ctx.rotate((rot * Math.PI) / 180);
  ctx.fillStyle = color;
  ctx.strokeStyle = color;
  ctx.setLineDash([]);
  ctx.lineWidth = 0.6;
  ctx.beginPath();
  if (kind === "circle") {
    ctx.arc(0, 0, r, 0, Math.PI * 2);
    ctx.fill();
  } else if (kind === "rect") {
    const s = r * Math.SQRT1_2;
    ctx.rect(-s, -s, 2 * s, 2 * s);
    ctx.fill();
  } else if (kind === "triangle") {
    for (let k = 0; k < 3; k++) {
      const a = (k * 2 * Math.PI) / 3;
      const px = Math.sin(a) * r;
      const py = -Math.cos(a) * r;
      if (k === 0) ctx.moveTo(px, py);
      else ctx.lineTo(px, py);
    }
    ctx.closePath();
    ctx.fill();
  } else if (kind === "cross") {
    ctx.lineWidth = 1;
    ctx.moveTo(-r, 0); ctx.lineTo(r, 0);
    ctx.moveTo(0, -r); ctx.lineTo(0, r);
    ctx.stroke();
  }
  ctx.restore();
}

const framePlugin = {
  id: "mplFrame",
  afterDatasetsDraw(chart: any) {
    const { ctx, chartArea: a } = chart;
    ctx.save();
    ctx.setLineDash([]);
    ctx.strokeStyle = "#000";
    ctx.lineWidth = 0.8;
    ctx.strokeRect(a.left, a.top, a.right - a.left, a.bottom - a.top);

    // legend (matplotlib style, lower right)
    const n = chart.data.datasets.length;
    ctx.font = "8px 'DejaVu Sans', sans-serif";
    let maxW = 0;
    for (let i = 0; i < n; i++) maxW = Math.max(maxW, ctx.measureText(SERIES_NAMES[i]).width);
    const w = 26.6 + maxW + 3.6;
    const rowH = 11.8;
    const h = 7 + (n - 1) * rowH + 4.4;
    const x0 = a.right - 4.7 - w;
    const y0 = a.bottom - 6.6 - h;
    const rr = 2;
    ctx.beginPath();
    ctx.moveTo(x0 + rr, y0);
    ctx.lineTo(x0 + w - rr, y0);
    ctx.quadraticCurveTo(x0 + w, y0, x0 + w, y0 + rr);
    ctx.lineTo(x0 + w, y0 + h - rr);
    ctx.quadraticCurveTo(x0 + w, y0 + h, x0 + w - rr, y0 + h);
    ctx.lineTo(x0 + rr, y0 + h);
    ctx.quadraticCurveTo(x0, y0 + h, x0, y0 + h - rr);
    ctx.lineTo(x0, y0 + rr);
    ctx.quadraticCurveTo(x0, y0, x0 + rr, y0);
    ctx.closePath();
    ctx.fillStyle = "rgba(255,255,255,0.8)";
    ctx.fill();
    ctx.strokeStyle = "#cccccc";
    ctx.lineWidth = 0.8;
    ctx.stroke();
    for (let i = 0; i < n; i++) {
      const st = STYLES[i];
      const y = y0 + 7 + i * rowH;
      ctx.strokeStyle = st.color;
      ctx.lineWidth = st.w;
      ctx.setLineDash(st.dash);
      ctx.beginPath();
      ctx.moveTo(x0 + 2.8, y);
      ctx.lineTo(x0 + 19.2, y);
      ctx.stroke();
      drawMarker(ctx, st.marker, st.rot, st.r, x0 + 11, y, st.color);
      ctx.fillStyle = TXT;
      ctx.textBaseline = "middle";
      ctx.textAlign = "left";
      ctx.fillText(SERIES_NAMES[i], x0 + 26.6, y);
    }
    ctx.restore();
  },
};

function PanelChart({ p }: { p: PanelCfg }) {
  const ref = useRef<HTMLCanvasElement>(null);
  useEffect(() => {
    const datasets = p.series.map((pts, i) => {
      const st = STYLES[i];
      const step = i >= 5 ? p.markConcat : p.markBase;
      return {
        label: SERIES_NAMES[i],
        data: pts.map(([x, y]) => ({ x, y })),
        borderColor: st.color,
        backgroundColor: st.color,
        borderWidth: st.w,
        borderDash: st.dash,
        borderCapStyle: "butt",
        borderJoinStyle: "round",
        pointStyle: st.marker,
        pointRotation: st.rot,
        pointRadius: markerRadii(pts, step, st.r),
        pointHoverRadius: 0,
        pointBackgroundColor: st.color,
        pointBorderColor: st.color,
        pointBorderWidth: st.marker === "cross" ? 1 : 0.4,
        tension: 0,
        fill: false,
        order: -i,
      };
    });
    const chart = new Chart(ref.current as HTMLCanvasElement, {
      type: "line",
      data: { datasets } as any,
      options: {
        animation: false,
        responsive: false,
        events: [],
        layout: { padding: { left: 0, right: p.padR, top: 3, bottom: 0 } },
        plugins: { legend: { display: false }, tooltip: { enabled: false } },
        scales: {
          x: {
            type: "linear",
            min: p.xMin,
            max: p.xMax,
            afterBuildTicks: (s: any) => { s.ticks = p.xTicks.map((v) => ({ value: v })); },
            afterFit: (s: any) => { s.height = 27; },
            ticks: { autoSkip: false, maxRotation: 0, padding: 1.5, font: FONT, color: TXT, callback: (v: any) => String(v) },
            grid: { display: true, drawOnChartArea: false, drawTicks: true, tickLength: 2.8, color: "#000", lineWidth: 0.8 },
            border: { display: false },
            title: { display: true, text: "Communication load (MB)", font: FONT, color: TXT, padding: { top: 0, bottom: 6 } },
          },
          y: {
            type: "linear",
            min: p.yMin,
            max: p.yMax,
            afterBuildTicks: (s: any) => { s.ticks = p.yTicks.map((v) => ({ value: v })); },
            afterFit: (s: any) => { s.width = p.yW; },
            ticks: { autoSkip: false, padding: 1.5, font: FONT, color: TXT, callback: (v: any) => Number(v).toFixed(2) },
            grid: { display: true, drawOnChartArea: false, drawTicks: true, tickLength: 2.8, color: "#000", lineWidth: 0.8 },
            border: { display: false },
            title: { display: true, text: "Test acc", font: FONT, color: TXT, padding: { top: p.yW - 31.3, bottom: 0 } },
          },
        },
      } as any,
      plugins: [framePlugin],
    });
    return () => chart.destroy();
  }, []);
  return (
    <canvas
      ref={ref}
      width={p.w}
      height={p.h}
      style={{ position: "absolute", left: p.left, top: p.top, width: p.w, height: p.h }}
    />
  );
}

const CAP_STYLE: React.CSSProperties = {
  position: "absolute",
  transform: "translateX(-50%)",
  whiteSpace: "nowrap",
  fontFamily: "'Liberation Serif', 'Times New Roman', serif",
  fontSize: 23,
  lineHeight: "23px",
  color: "#000",
};

function DirMath() {
  return (
    <>
      <i>p</i>
      <i style={{ fontSize: "0.7em", position: "relative", top: "0.3em" }}>k</i>
      <span style={{ margin: "0 0.28em" }}>∼</span>
      <i>Dir</i>(0.5)
    </>
  );
}

export default function App() {
  return (
    <div style={{ position: "absolute", left: 0, top: 0, width: 1273, height: 525, background: "#fff", overflow: "hidden" }}>
      {PANELS.map((p, i) => (
        <PanelChart key={i} p={p} />
      ))}
      <div style={{ ...CAP_STYLE, left: 205.5, top: 204 }}>(a) CIFAR-10, #C=2</div>
      <div style={{ ...CAP_STYLE, left: 651.5, top: 204 }}>(b) SVHN, #C=2</div>
      <div style={{ ...CAP_STYLE, left: 1096.5, top: 204 }}>(c) FMNIST, #C=2</div>
      <div style={{ ...CAP_STYLE, left: 228, top: 497 }}>(d) CIFAR-10,<DirMath /></div>
      <div style={{ ...CAP_STYLE, left: 658.5, top: 497 }}>(e) SVHN, <DirMath /></div>
      <div style={{ ...CAP_STYLE, left: 1101.5, top: 497 }}>(f) FMNIST, <DirMath /></div>
    </div>
  );
}
